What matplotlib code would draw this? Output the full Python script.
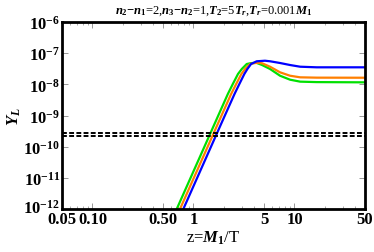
import matplotlib
matplotlib.use("Agg")
import matplotlib.pyplot as plt
import matplotlib.transforms as mtransforms
from matplotlib.ticker import FixedLocator, LogLocator, NullFormatter

plt.rcParams['font.family'] = ['Liberation Serif', 'DejaVu Serif']
plt.rcParams['font.weight'] = 'bold'
plt.rcParams['mathtext.fontset'] = 'custom'
plt.rcParams['mathtext.rm'] = 'Liberation Serif:bold'
plt.rcParams['mathtext.it'] = 'Liberation Serif:italic:bold'
plt.rcParams['mathtext.bf'] = 'Liberation Serif:bold'

# curve data (z, Y_L)
z_green = [0.615, 0.683, 1.70, 2.19, 2.455, 2.76, 3.01, 3.37, 3.72, 4.21, 4.78,
           5.73, 7.20, 9.05, 11.4, 16.6, 50]
y_green = [4.7e-13, 1e-12, 7.73e-10, 4.9e-9, 1.03e-8, 2.15e-8, 3.11e-8, 4.5e-8, 4.8e-8, 4.9e-8, 4.17e-8,
           3.11e-8, 1.89e-8, 1.41e-8, 1.22e-8, 1.18e-8, 1.16e-8]

z_orange = [0.663, 0.736, 1.83, 2.36, 2.65, 2.98, 3.24, 3.63, 4.0, 4.35, 4.78,
            5.73, 7.20, 9.05, 11.4, 16.6, 50]
y_orange = [4.7e-13, 1e-12, 7.73e-10, 4.9e-9, 1.03e-8, 2.15e-8, 3.11e-8, 4.5e-8, 4.8e-8, 4.9e-8, 4.75e-8,
            3.68e-8, 2.43e-8, 1.89e-8, 1.68e-8, 1.64e-8, 1.63e-8]

z_blue = [0.715, 0.794, 1.975, 2.55, 2.85, 3.19, 3.42, 3.72, 4.23, 5.11,
          5.73, 7.20, 9.05, 11.4, 16.6, 50]
y_blue = [4.7e-13, 1e-12, 7.73e-10, 4.9e-9, 1.03e-8, 2.15e-8, 3.11e-8, 4.5e-8, 5.5e-8, 5.73e-8,
          5.5e-8, 4.84e-8, 4.17e-8, 3.68e-8, 3.52e-8, 3.52e-8]

obs_upper = 2.75e-10
obs_lower = 2.2e-10

x_ticks = [0.05, 0.1, 0.5, 1, 5, 10, 50]
x_labels = ['0.05', '0.10', '0.50', '1', '5', '10', '50']
y_ticks = [1e-12, 1e-11, 1e-10, 1e-9, 1e-8, 1e-7, 1e-6]
y_labels = [r'$\mathbf{10^{-%d}}$' % k for k in [12, 11, 10, 9, 8, 7, 6]]

fig = plt.figure(figsize=(3.74, 2.53), dpi=100)
ax = fig.add_axes([0.166, 0.170, 0.810, 0.739])

ax.plot(z_green, y_green, color='#00e000', lw=1.6)
ax.plot(z_orange, y_orange, color='#ff7f00', lw=1.6)
ax.plot(z_blue, y_blue, color='#0000ff', lw=1.6)
for v in [obs_upper, obs_lower]:
    ax.axhline(v, color='black', lw=1.4, ls=(0, (2.5, 1.2)))

ax.set_xscale('log')
ax.set_yscale('log')
ax.set_xlim(0.05, 50)
ax.set_ylim(1e-12, 1e-6)

ax.xaxis.set_major_locator(FixedLocator(x_ticks))
ax.set_xticklabels(x_labels)
ax.xaxis.set_minor_locator(LogLocator(base=10, subs=range(1, 10)))
ax.xaxis.set_minor_formatter(NullFormatter())
ax.yaxis.set_major_locator(FixedLocator(y_ticks))
ax.set_yticklabels(y_labels)
ax.yaxis.set_minor_locator(LogLocator(base=10, subs=range(1, 10)))
ax.yaxis.set_minor_formatter(NullFormatter())

ax.tick_params(which='both', direction='in', top=True, right=True, color='#888888')
ax.tick_params(which='major', length=4, width=0.6, labelsize=12, pad=1.5)
ax.tick_params(which='minor', length=2, width=0.5)
for s in ax.spines.values():
    s.set_linewidth(2)

# lift the lowest y label a bit so it clears the 0.05 label
lab = ax.get_yticklabels()[0]
lab.set_transform(lab.get_transform() + mtransforms.ScaledTranslation(0, 3 / 100, fig.dpi_scale_trans))

ax.set_xlabel(r'z=$M_1$/T', fontsize=12, labelpad=1)
ax.set_ylabel(r'$Y_L$', fontsize=12, labelpad=0)
ax.set_title(r'$n_2$$-$$n_1$=2,$n_3$$-$$n_2$=1,$T_2$=5$T_r$,$T_r$=0.001$M_1$', fontsize=9, pad=7)

fig.savefig('out.png', dpi=100)
